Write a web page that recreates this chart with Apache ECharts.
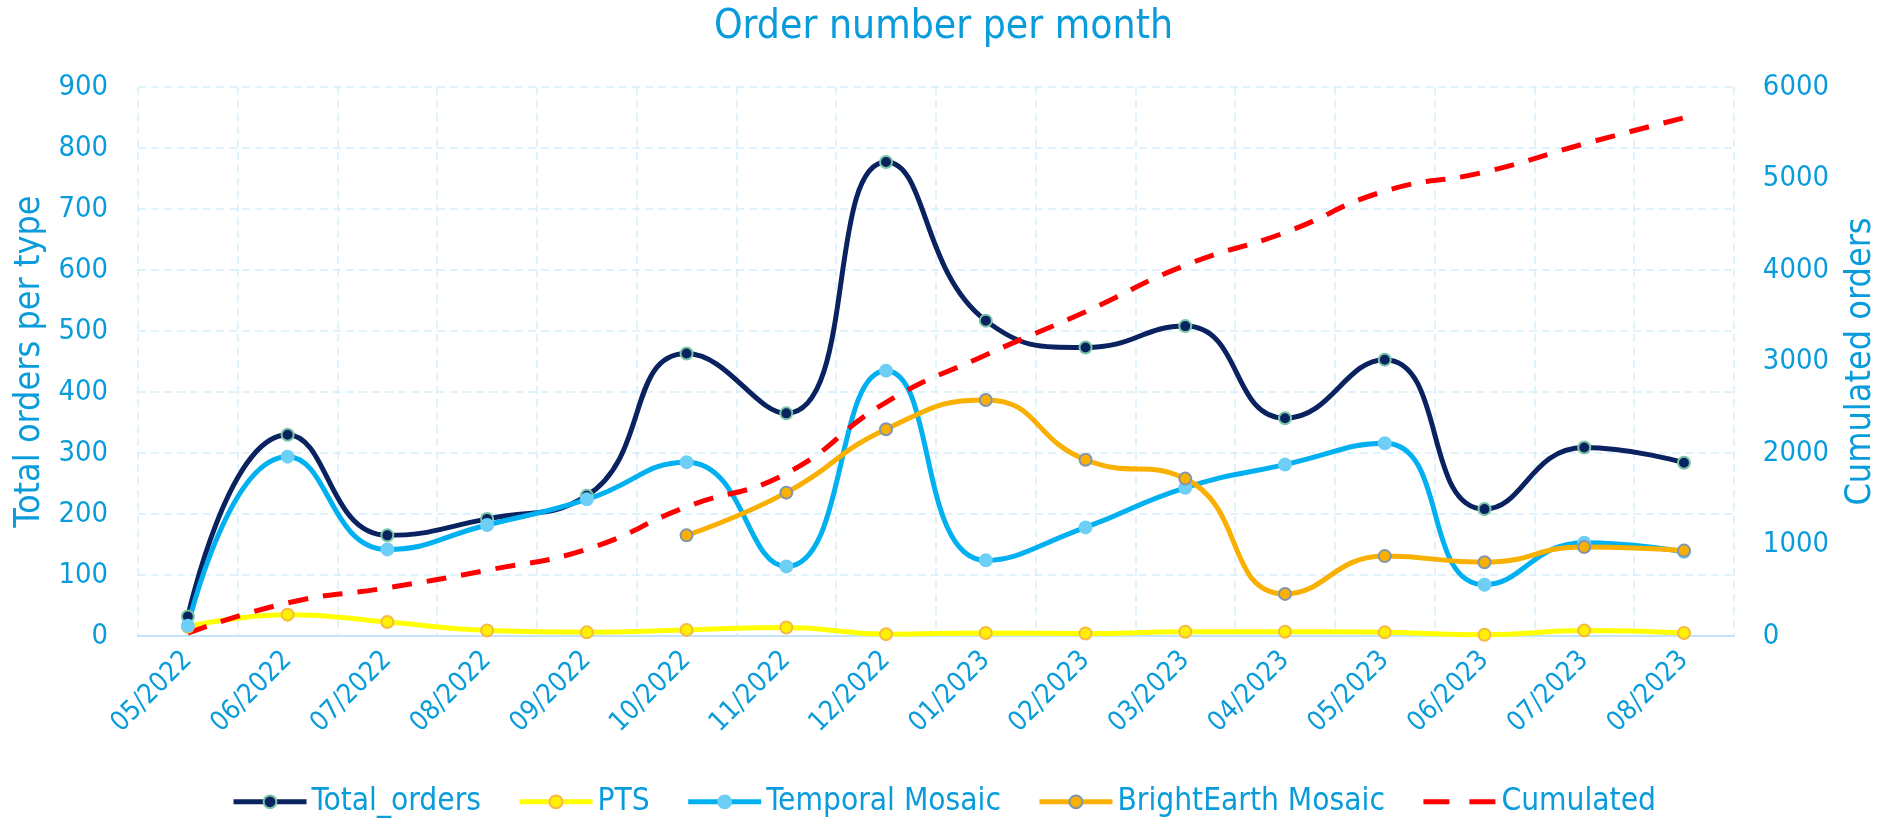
<!DOCTYPE html>
<html>
<head>
<meta charset="utf-8">
<script src="https://cdn.jsdelivr.net/npm/echarts@6/dist/echarts.min.js"></script>
<style>
html,body{margin:0;padding:0;background:#fff;}
#chart{width:1887px;height:820px;}
</style>
</head>
<body>
<div id="chart"></div>
<script>
const months = ['05/2022','06/2022','07/2022','08/2022','09/2022','10/2022','11/2022','12/2022','01/2023','02/2023','03/2023','04/2023','05/2023','06/2023','07/2023','08/2023'];
const totalOrders = [32, 330, 165, 192, 230, 463, 365, 777, 517, 473, 508, 357, 453, 208, 309, 284];
const pts = [15, 35, 23, 9, 6, 10, 14, 3, 5, 4, 7, 7, 6, 2, 9, 5];
const temporalMosaic = [17, 294, 142, 182, 224, 285, 114, 435, 124, 178, 243, 281, 316, 84, 153, 138];
const brightEarthMosaic = [null, null, null, null, null, 165, 235, 339, 387, 289, 258, 69, 131, 121, 146, 140];
const cumulated = [32, 362, 527, 719, 949, 1412, 1777, 2554, 3071, 3544, 4052, 4409, 4862, 5070, 5379, 5663];

// font selection: try a condensed face, otherwise a regular sans
const ctx = document.createElement('canvas').getContext('2d');
function measure(font, txt) { ctx.font = font; return ctx.measureText(txt).width; }
const probe = 'Total_orders 0123456789 Wmi';
let STRETCH = 'normal', FAMILY = "'Liberation Sans'";
const condensedCandidates = ["'Liberation Sans Narrow'", "'Arial Narrow'", "'Noto Sans Condensed'"];
let found = false;
for (const f of condensedCandidates) {
  if (measure('40px ' + f + ', monospace', probe) !== measure('40px monospace', probe)) { FAMILY = f; found = true; break; }
}
if (!found) {
  for (const f of ["'Noto Sans'", "'DejaVu Sans'", "'Open Sans'", "Roboto", "'Liberation Sans'"]) {
    const n = measure('normal normal 40px ' + f, probe);
    const c = measure('condensed normal 40px ' + f, probe);
    if (c < n * 0.93) { FAMILY = f; STRETCH = 'condensed'; found = true; break; }
  }
}
const FONT = FAMILY + ', sans-serif';
const FSTYLE = STRETCH === 'condensed' ? 'condensed' : 'normal';
const boost = 1.08;
function sizeFor(txt, width) {
  return Math.round(boost * 100 * width / measure(FSTYLE + ' normal 100px ' + FONT, txt) * 10) / 10;
}
const S_TITLE = sizeFor('Order number per month', 425);
const S_LEGEND = sizeFor('Total_orders', 157);
const S_TICK = sizeFor('900', 46);
const S_XTICK = sizeFor('06/2022', 94);
const S_NAME = sizeFor('Total orders per type', 308);

const TXT = '#0A9BDB';
const GRID = '#D6EEFB';
const ts = (size) => ({ fontFamily: FONT, fontStyle: FSTYLE, fontSize: size, color: TXT });

const chart = echarts.init(document.getElementById('chart'));
const lineSeries = (name, data, color, mFill, mBorder) => ({
  name, type: 'line', data, smooth: 0.5,
  symbol: 'circle', symbolSize: 12,
  lineStyle: { color, width: 5 },
  itemStyle: { color: mFill, borderColor: mBorder, borderWidth: 2 },
  emphasis: { disabled: true }
});

chart.setOption({
  animation: false,
  textStyle: { fontFamily: FONT, color: TXT },
  title: {
    text: 'Order number per month', left: 'center', top: 26 - S_TITLE * 0.6,
    textStyle: Object.assign(ts(S_TITLE), { fontWeight: 'normal' })
  },
  legend: {
    top: 801 - Math.max(16, S_LEGEND) / 2 - 4, left: 'center', itemWidth: 73, itemHeight: 16, itemGap: 36,
    lineStyle: { width: 5 },
    textStyle: ts(S_LEGEND),
    data: ['Total_orders', 'PTS', 'Temporal Mosaic', 'BrightEarth Mosaic',
      { name: 'Cumulated', itemStyle: { opacity: 0 }, lineStyle: { type: [26, 20], width: 5 } }]
  },
  grid: { left: 138, right: 152, top: 87, bottom: 184 },
  xAxis: {
    type: 'category', data: months, boundaryGap: true,
    axisLine: { show: true, lineStyle: { color: '#C4E6F8', width: 2 } },
    axisTick: { show: false },
    axisLabel: Object.assign(ts(S_XTICK), { rotate: 45, margin: 20, interval: 0 }),
    splitLine: { show: true, lineStyle: { color: GRID, width: 1.5, type: [8, 5] } }
  },
  yAxis: [
    {
      type: 'value', min: 0, max: 900, interval: 100,
      name: 'Total orders per type', nameLocation: 'middle', nameGap: 105 - S_NAME * 0.5,
      nameTextStyle: ts(S_NAME),
      axisLine: { show: false }, axisTick: { show: false },
      axisLabel: Object.assign(ts(S_TICK), { margin: 30 }),
      splitLine: { show: true, lineStyle: { color: GRID, width: 1.5, type: [8, 5] } }
    },
    {
      type: 'value', min: 0, max: 6000, interval: 1000, position: 'right',
      name: 'Cumulated orders', nameLocation: 'middle', nameGap: 127 - S_NAME * 0.5,
      nameTextStyle: ts(S_NAME),
      axisLine: { show: false }, axisTick: { show: false },
      axisLabel: Object.assign(ts(S_TICK), { margin: 29, formatter: v => String(v) }),
      splitLine: { show: false }
    }
  ],
  series: [
    lineSeries('Total_orders', totalOrders, '#0A2360', '#0A2360', '#78C6A6'),
    lineSeries('PTS', pts, '#FFFF00', '#FFEF00', '#F6B945'),
    lineSeries('Temporal Mosaic', temporalMosaic, '#00B0F0', '#6ECFF6', '#6ECFF6'),
    lineSeries('BrightEarth Mosaic', brightEarthMosaic, '#F9B000', '#F9B000', '#8395AE'),
    {
      name: 'Cumulated', type: 'line', yAxisIndex: 1, data: cumulated, smooth: 0.5,
      showSymbol: false, symbol: 'none',
      lineStyle: { color: '#FF0000', width: 5, type: [20, 15] },
      itemStyle: { color: '#FF0000', opacity: 0 },
      emphasis: { disabled: true }
    }
  ]
});
</script>
</body>
</html>
